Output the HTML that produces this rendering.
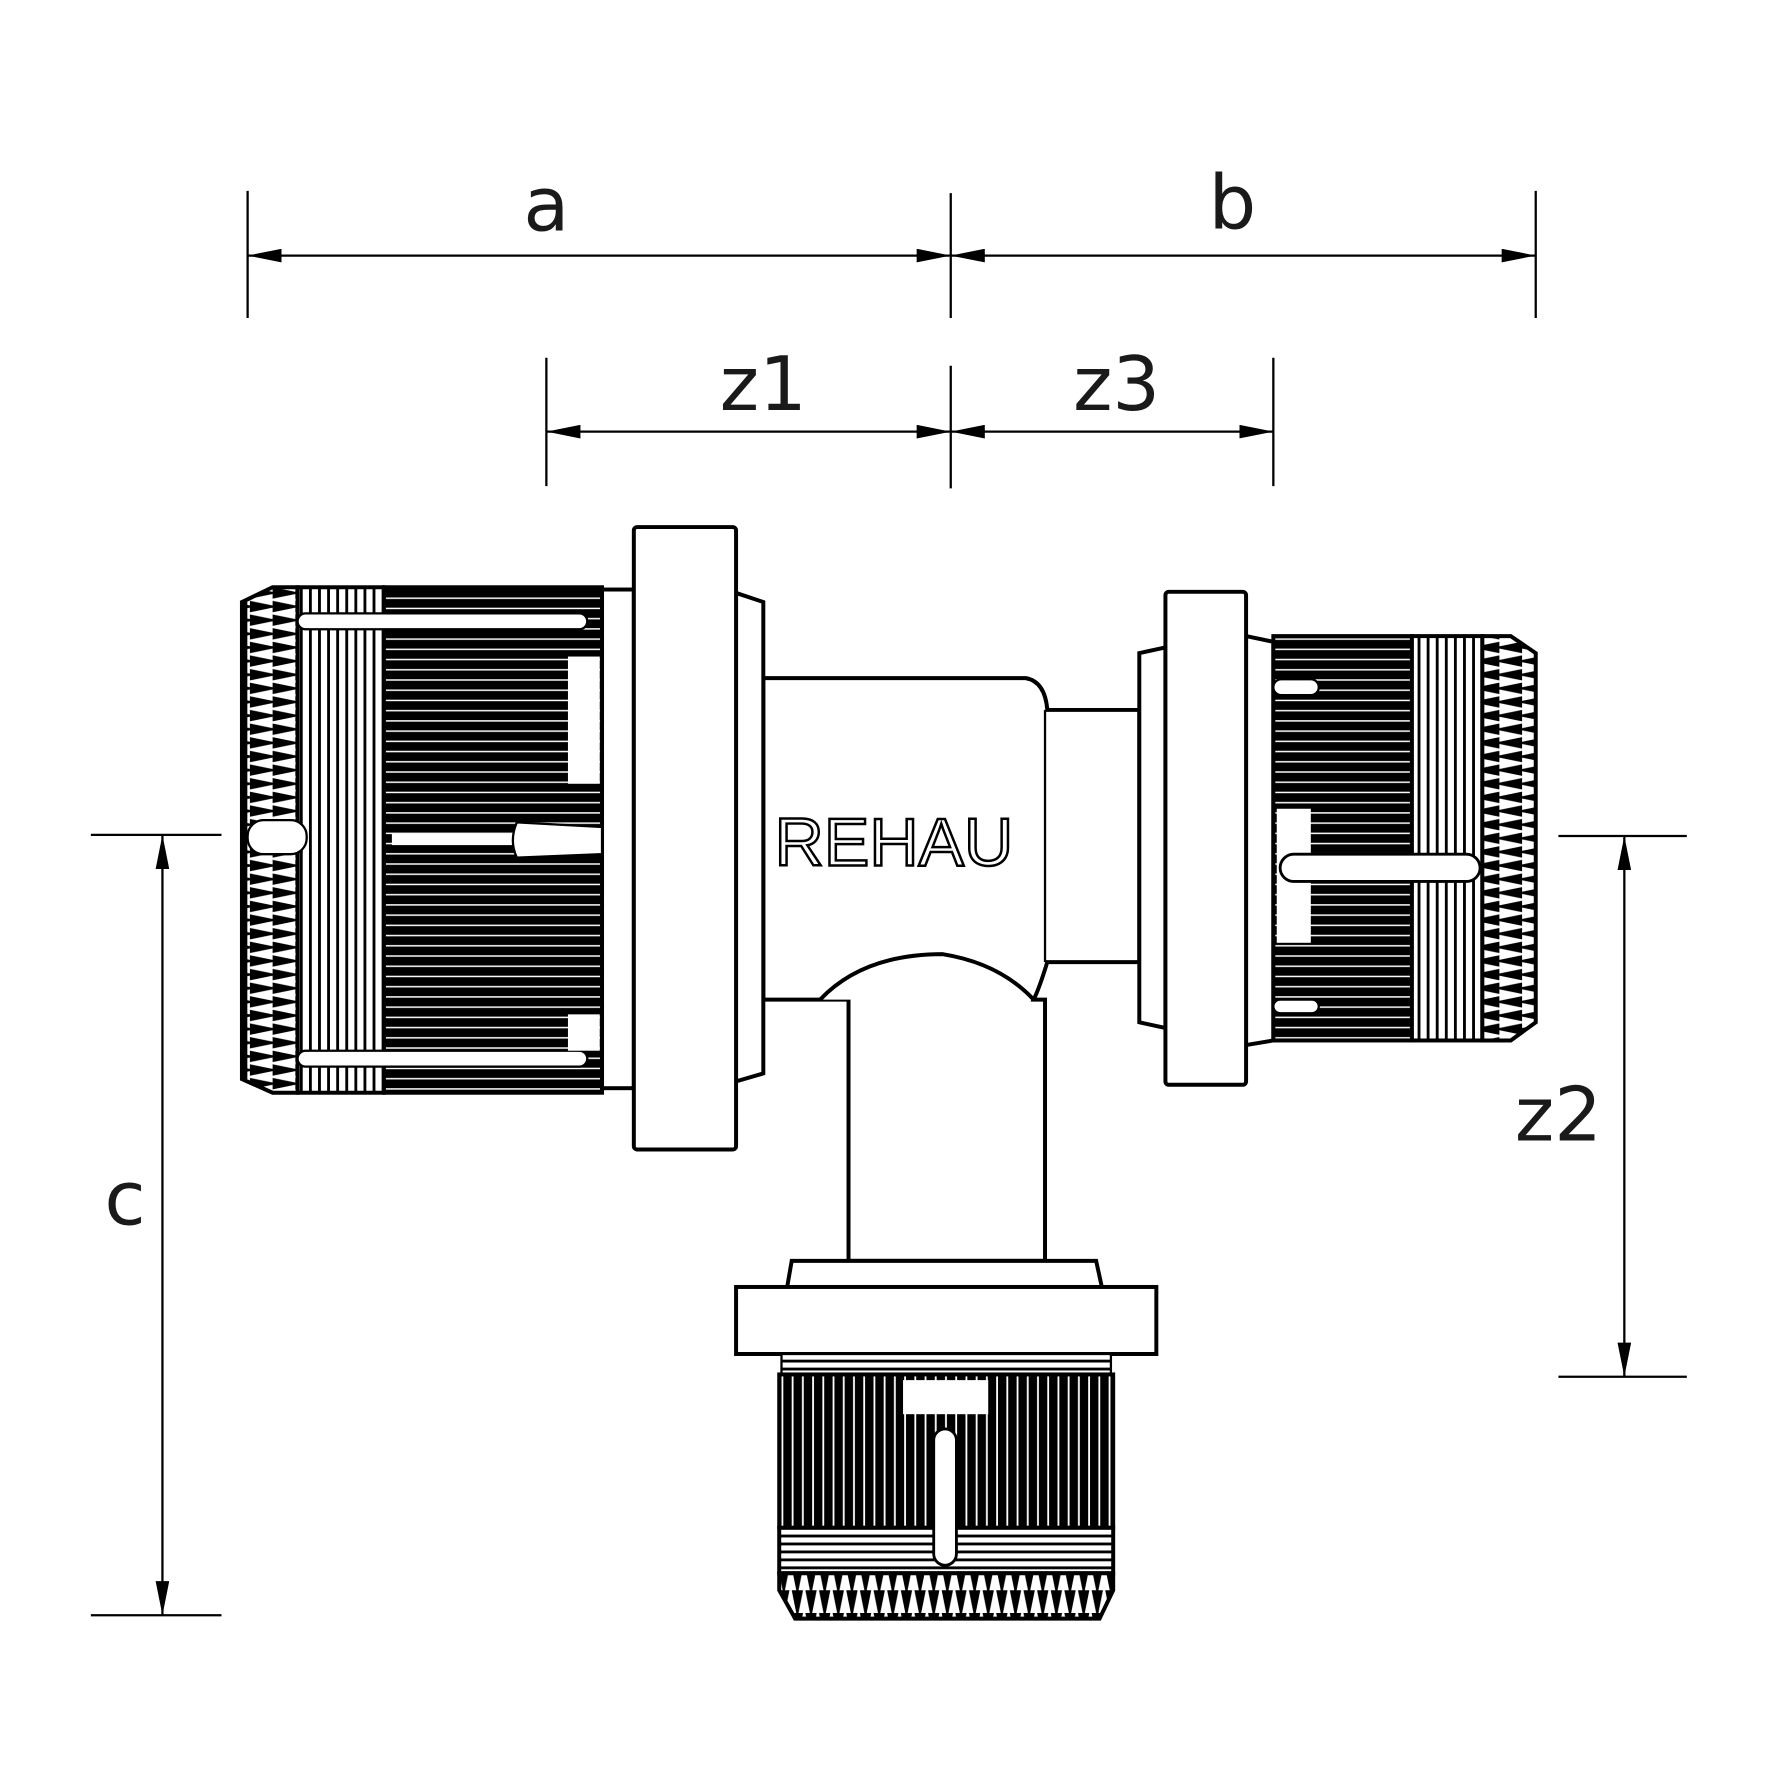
<!DOCTYPE html>
<html><head><meta charset="utf-8"><style>
html,body{margin:0;padding:0;background:#fff;}
svg{display:block;}
</style></head><body>
<svg width="1772" height="1772" viewBox="0 0 1560 1560" xmlns="http://www.w3.org/2000/svg">
<defs>
<pattern id="hs" width="10" height="9" patternUnits="userSpaceOnUse"><rect width="10" height="9" fill="#000"/><rect y="4" width="10" height="1.3" fill="#fff"/></pattern>
<pattern id="vs" width="9" height="10" patternUnits="userSpaceOnUse"><rect width="9" height="10" fill="#000"/><rect x="4" width="1.6" height="10" fill="#fff"/></pattern>
<pattern id="vr" width="8" height="10" patternUnits="userSpaceOnUse"><rect width="8" height="10" fill="#fff"/><rect x="0" width="2.5" height="10" fill="#000"/></pattern>
<pattern id="hr" width="10" height="7" patternUnits="userSpaceOnUse"><rect width="10" height="7" fill="#fff"/><rect y="0" width="10" height="2.5" fill="#000"/></pattern>
<pattern id="th" width="20" height="12" patternUnits="userSpaceOnUse"><rect width="20" height="12" fill="#fff"/><path d="M0 1 L20 5 L20 7 L0 11Z" fill="#000"/></pattern>
<pattern id="thr" width="20" height="12" patternUnits="userSpaceOnUse"><rect width="20" height="12" fill="#fff"/><path d="M20 1 L0 5 L0 7 L20 11Z" fill="#000"/></pattern>
<pattern id="tv" width="12" height="20" patternUnits="userSpaceOnUse"><rect width="12" height="20" fill="#fff"/><path d="M1 0 L5 20 L7 20 L11 0Z" fill="#000"/></pattern>
<marker id="ar" viewBox="0 0 30 12" refX="30" refY="6" markerWidth="30" markerHeight="12" markerUnits="userSpaceOnUse" orient="auto-start-reverse"><path d="M0 0 L30 6 L0 12Z" fill="#000"/></marker>
</defs>
<g stroke="#000" stroke-width="2" fill="none">
<line x1="218" y1="168" x2="218" y2="280"/><line x1="837" y1="170" x2="837" y2="280"/><line x1="1352" y1="168" x2="1352" y2="280"/>
<line x1="218" y1="225" x2="837" y2="225" marker-start="url(#ar)" marker-end="url(#ar)"/>
<line x1="837" y1="225" x2="1352" y2="225" marker-start="url(#ar)" marker-end="url(#ar)"/>
<line x1="481" y1="315" x2="481" y2="428"/><line x1="837" y1="322" x2="837" y2="430"/><line x1="1121" y1="315" x2="1121" y2="428"/>
<line x1="481" y1="380" x2="837" y2="380" marker-start="url(#ar)" marker-end="url(#ar)"/>
<line x1="837" y1="380" x2="1121" y2="380" marker-start="url(#ar)" marker-end="url(#ar)"/>
<line x1="80" y1="735" x2="195" y2="735"/><line x1="80" y1="1422" x2="195" y2="1422"/>
<line x1="143" y1="735" x2="143" y2="1422" marker-start="url(#ar)" marker-end="url(#ar)"/>
<line x1="1372" y1="736" x2="1485" y2="736"/><line x1="1372" y1="1212" x2="1485" y2="1212"/>
<line x1="1430" y1="736" x2="1430" y2="1212" marker-start="url(#ar)" marker-end="url(#ar)"/>
</g>
<g font-size="66" fill="#1a1a1a" style="font-family:'DejaVu Sans','Liberation Sans',sans-serif">
<text x="481" y="203" text-anchor="middle">a</text>
<text x="1085" y="201" text-anchor="middle">b</text>
<text x="672" y="361" text-anchor="middle">z1</text>
<text x="983" y="361" text-anchor="middle">z3</text>
<text x="110" y="1078" text-anchor="middle">c</text>
<text x="1372" y="1004" text-anchor="middle">z2</text>
</g>
<g stroke="#000" stroke-width="3.5" fill="#fff">
<path d="M672 597 L903 597 Q920 600 922 625 L1003 625 L1003 847 L922 847 Q915 870 910 880 L920 880 L920 1110 L747 1110 L747 880 L672 880 Z"/>
<path d="M722 880 Q760 840 830 840 Q880 848 910 880" />
<line x1="920" y1="625" x2="920" y2="847" stroke-width="2"/>
<rect x="530" y="519" width="28" height="439"/>
<path d="M648 522 L672 530 L672 945 L648 952 Z"/>
<rect x="558" y="464" width="90" height="548" rx="3"/>
<rect x="262" y="517" width="76" height="445" fill="url(#vr)"/>
<rect x="338" y="517" width="192" height="445" fill="url(#hs)"/>
<path d="M213 530 L240 517 L262 517 L262 962 L240 962 L213 950 Z" fill="url(#th)"/>
<line x1="216" y1="530" x2="216" y2="950"/>
<rect x="262" y="540" width="255" height="14" rx="7" stroke-width="2"/>
<rect x="262" y="925" width="255" height="14" rx="7" stroke-width="2"/>
<rect x="500" y="578" width="28" height="112" stroke="none"/>
<rect x="500" y="893" width="28" height="32" stroke="none"/>
<rect x="218" y="722" width="52" height="30" rx="14" stroke-width="2"/>
<rect x="345" y="734" width="110" height="10" stroke="none"/>
<path d="M455 724 L530 728 L530 752 L455 755 Q448 740 455 724Z" stroke-width="2"/>
<path d="M1026 570 L1003 575 L1003 900 L1026 905 Z"/>
<path d="M1097 560 L1121 565 L1121 916 L1097 920 Z"/>
<rect x="1026" y="521" width="71" height="434" rx="3"/>
<rect x="1121" y="560" width="122" height="356" fill="url(#hs)"/>
<rect x="1243" y="560" width="62" height="356" fill="url(#vr)"/>
<path d="M1305 560 L1330 560 L1352 575 L1352 900 L1330 916 L1305 916 Z" fill="url(#thr)"/>
<rect x="1121" y="598" width="40" height="14" rx="7" stroke-width="2"/>
<rect x="1121" y="880" width="40" height="12" rx="6" stroke-width="2"/>
<rect x="1124" y="712" width="30" height="118" stroke="none"/>
<rect x="1127" y="752" width="176" height="24" rx="12" stroke-width="2.5"/>
<path d="M693 1133 L697 1110 L965 1110 L970 1133 Z"/>
<rect x="648" y="1133" width="370" height="59"/>
<rect x="688" y="1192" width="290" height="18" fill="url(#hr)" stroke-width="2"/>
<rect x="686" y="1210" width="294" height="135" fill="url(#vs)"/>
<rect x="686" y="1345" width="294" height="40" fill="url(#hr)"/>
<path d="M686 1385 L980 1385 L980 1400 L968 1425 L700 1425 L686 1400 Z" fill="url(#tv)"/>
<rect x="795" y="1215" width="75" height="30" stroke="none"/>
<rect x="822" y="1258" width="20" height="120" rx="10" stroke-width="2.5"/>
</g>
<text x="787" y="762" font-size="60" text-anchor="middle" textLength="210" lengthAdjust="spacingAndGlyphs" style="fill:#fff;stroke:#000;stroke-width:2.2;font-family:'Liberation Sans',sans-serif">REHAU</text>
</svg>
</body></html>
